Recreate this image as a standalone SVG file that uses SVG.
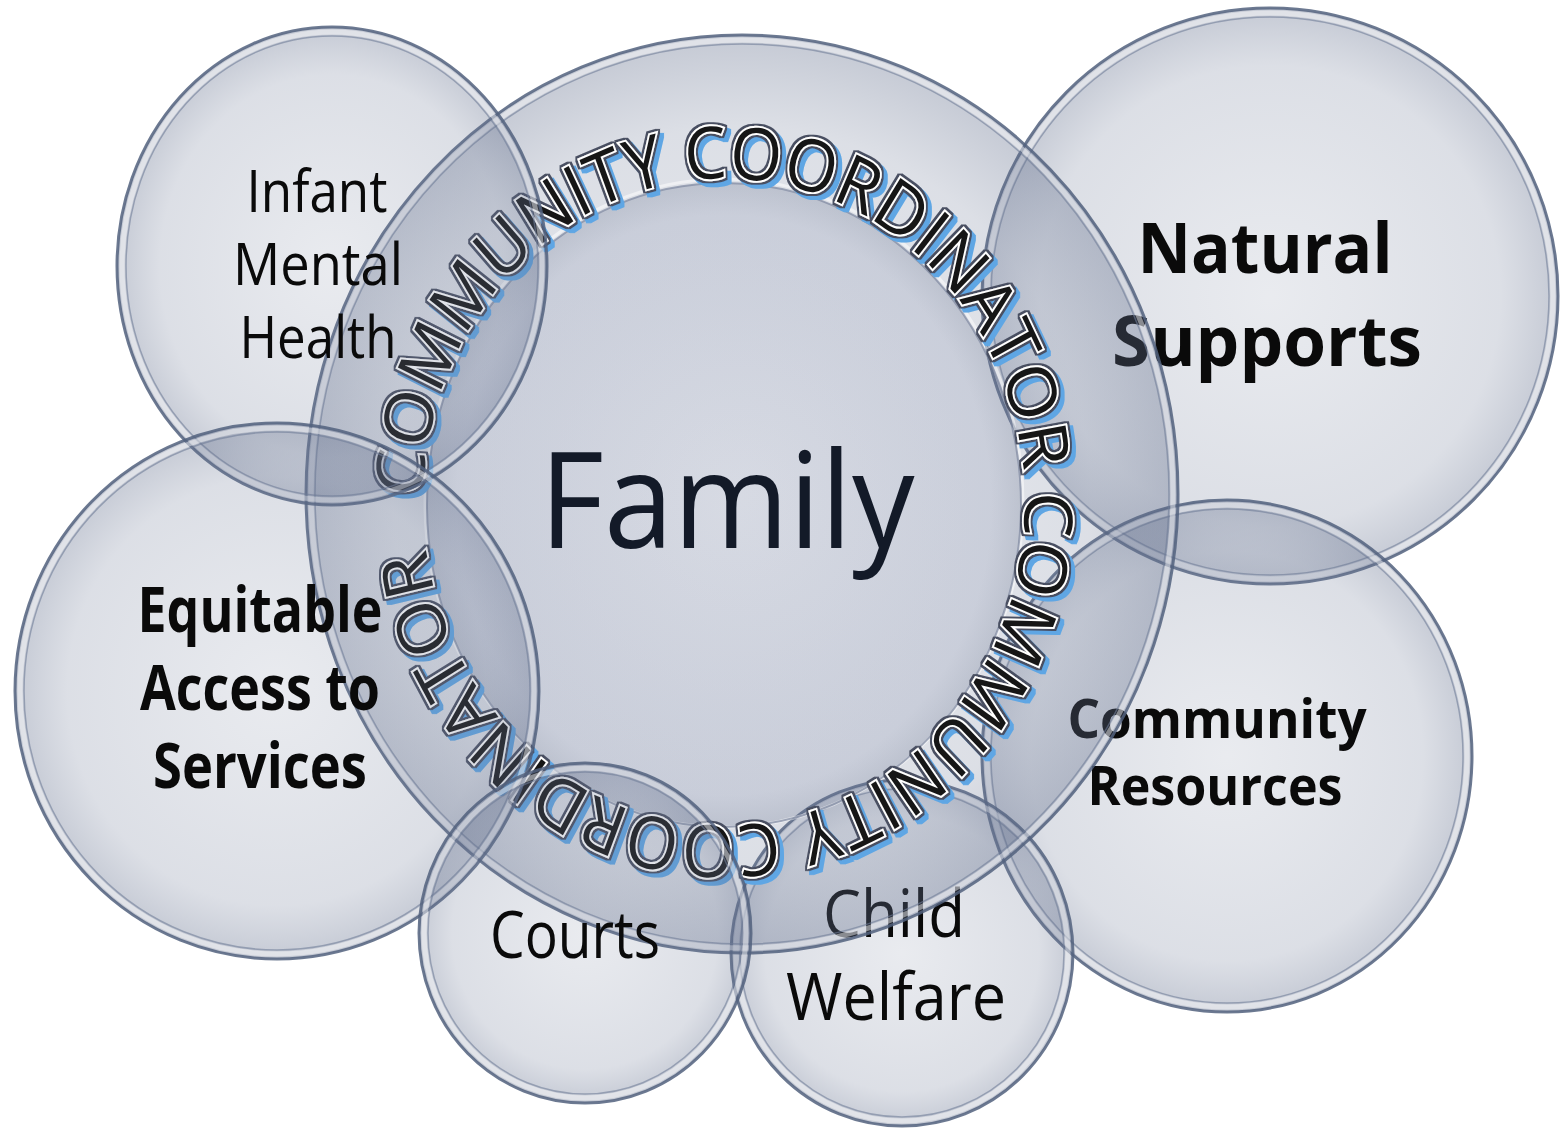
<svg xmlns="http://www.w3.org/2000/svg" xmlns:xlink="http://www.w3.org/1999/xlink" width="1565" height="1131" viewBox="0 0 1565 1131">
<defs>
  <radialGradient id="glass" cx="0.5" cy="0.5" r="0.5">
    <stop offset="0" stop-color="#6e7a96" stop-opacity="0.15"/>
    <stop offset="0.8" stop-color="#6e7a96" stop-opacity="0.24"/>
    <stop offset="1" stop-color="#5d6a88" stop-opacity="0.36"/>
  </radialGradient>
  <radialGradient id="glassInner" cx="0.5" cy="0.5" r="0.5">
    <stop offset="0" stop-color="#66739a" stop-opacity="0.14"/>
    <stop offset="0.9" stop-color="#66739a" stop-opacity="0.18"/>
    <stop offset="1" stop-color="#5d6a88" stop-opacity="0.26"/>
  </radialGradient>
  <filter id="ringFx" x="-10%" y="-10%" width="120%" height="120%">
    <feMorphology in="SourceAlpha" operator="dilate" radius="1.6" result="dil"/>
    <feFlood flood-color="#4a5062" result="gray"/>
    <feComposite in="gray" in2="dil" operator="in" result="outline"/>
    <feOffset in="dil" dx="3.5" dy="3.5" result="off"/>
    <feFlood flood-color="#5ea6e4" result="blue"/>
    <feComposite in="blue" in2="off" operator="in" result="shadow"/>
    <feMerge>
      <feMergeNode in="shadow"/>
      <feMergeNode in="outline"/>
      <feMergeNode in="SourceGraphic"/>
    </feMerge>
  </filter>
  <path id="ringPath" d="M -300.96,-4.73 A 301,301 0 0 1 300.96,4.73 A 301,301 0 0 1 -300.96,-4.73"/>
</defs>
<style>
  .disc { fill: url(#glass); }
  .hl { fill: none; stroke: #ffffff; stroke-width: 5; stroke-opacity: 0.45; }
  .rim2 { fill: none; stroke: #6f7d98; stroke-width: 1.5; stroke-opacity: 0.6; }
  .rim { fill: none; stroke: #52617e; stroke-width: 3; stroke-opacity: 0.85; }
  .lbl { font-family: "Open Sans", "Liberation Sans", sans-serif; fill: #0a0a0a; text-anchor: middle; }
  .b { font-weight: 700; }
  .ring { font-family: "Open Sans", "Liberation Sans", sans-serif; font-size: 67px; fill: #161616; stroke: #ffffff; stroke-width: 3.6; paint-order: stroke; }
</style>
<rect x="0" y="0" width="1565" height="1131" fill="#ffffff"/>
<g id="connectors"/>

<g id="natural-supports">
  <ellipse class="disc" cx="1270" cy="296" rx="288" ry="288"/>
  <ellipse class="hl" cx="1270" cy="296" rx="283" ry="283"/>
  <ellipse class="rim2" cx="1270" cy="296" rx="279" ry="279"/>
  <ellipse class="rim" cx="1270" cy="296" rx="288" ry="288"/>
  <text class="lbl b" x="1265" y="273" font-size="70" textLength="255" lengthAdjust="spacingAndGlyphs">Natural</text>
  <text class="lbl b" x="1267" y="366" font-size="70" textLength="310" lengthAdjust="spacingAndGlyphs">Supports</text>
</g>

<g id="community-resources">
  <ellipse class="disc" cx="1227" cy="756" rx="245" ry="256"/>
  <ellipse class="hl" cx="1227" cy="756" rx="240" ry="251"/>
  <ellipse class="rim2" cx="1227" cy="756" rx="236" ry="247"/>
  <ellipse class="rim" cx="1227" cy="756" rx="245" ry="256"/>
  <text class="lbl b" x="1217" y="738" font-size="53" textLength="299" lengthAdjust="spacingAndGlyphs">Community</text>
  <text class="lbl b" x="1215" y="805" font-size="53" textLength="255" lengthAdjust="spacingAndGlyphs">Resources</text>
</g>

<g id="child-welfare">
  <ellipse class="disc" cx="902" cy="953" rx="171" ry="173"/>
  <ellipse class="hl" cx="902" cy="953" rx="166" ry="168"/>
  <ellipse class="rim2" cx="902" cy="953" rx="162" ry="164"/>
  <ellipse class="rim" cx="902" cy="953" rx="171" ry="173"/>
  <text class="lbl" x="894" y="937" font-size="66" textLength="142" lengthAdjust="spacingAndGlyphs">Child</text>
  <text class="lbl" x="896" y="1020" font-size="66" textLength="220" lengthAdjust="spacingAndGlyphs">Welfare</text>
</g>

<g id="community-coordinator">
  <ellipse class="disc" cx="742" cy="494" rx="436" ry="459"/>
  <ellipse class="hl" cx="742" cy="494" rx="431" ry="454"/>
  <ellipse class="rim2" cx="742" cy="494" rx="427" ry="450"/>
  <ellipse class="rim" cx="742" cy="494" rx="436" ry="459"/>
</g>

<g id="family">
  <ellipse cx="724" cy="505" rx="297" ry="322" fill="url(#glassInner)"/>
  <ellipse cx="724" cy="503" rx="299" ry="324" fill="none" stroke="#ffffff" stroke-width="3" stroke-opacity="0.5"/>
  <ellipse cx="724" cy="505" rx="297" ry="322" fill="none" stroke="#7d889f" stroke-width="2" stroke-opacity="0.7"/>
  <text class="lbl" x="727" y="548" font-size="134" style="fill:#131a28" textLength="375" lengthAdjust="spacingAndGlyphs">Family</text>
</g>

<g id="ring-text" transform="translate(724,502) scale(1,1.08)">
  <text class="ring" filter="url(#ringFx)"><textPath xlink:href="#ringPath" href="#ringPath" textLength="1837" lengthAdjust="spacing">COMMUNITY COORDINATOR COMMUNITY COORDINATOR</textPath></text>
</g>

<g id="infant-mental-health">
  <ellipse class="disc" cx="332" cy="266" rx="215" ry="239"/>
  <ellipse class="hl" cx="332" cy="266" rx="210" ry="234"/>
  <ellipse class="rim2" cx="332" cy="266" rx="206" ry="230"/>
  <ellipse class="rim" cx="332" cy="266" rx="215" ry="239"/>
  <text class="lbl" x="317" y="212" font-size="59" textLength="141" lengthAdjust="spacingAndGlyphs">Infant</text>
  <text class="lbl" x="318" y="285" font-size="59" textLength="170" lengthAdjust="spacingAndGlyphs">Mental</text>
  <text class="lbl" x="318" y="358" font-size="59" textLength="157" lengthAdjust="spacingAndGlyphs">Health</text>
</g>

<g id="equitable-access">
  <ellipse class="disc" cx="277" cy="691" rx="262" ry="268"/>
  <ellipse class="hl" cx="277" cy="691" rx="257" ry="263"/>
  <ellipse class="rim2" cx="277" cy="691" rx="253" ry="259"/>
  <ellipse class="rim" cx="277" cy="691" rx="262" ry="268"/>
  <text class="lbl b" x="260" y="632" font-size="63" textLength="245" lengthAdjust="spacingAndGlyphs">Equitable</text>
  <text class="lbl b" x="260" y="710" font-size="63" textLength="240" lengthAdjust="spacingAndGlyphs">Access to</text>
  <text class="lbl b" x="260" y="788" font-size="63" textLength="214" lengthAdjust="spacingAndGlyphs">Services</text>
</g>

<g id="courts">
  <ellipse class="disc" cx="585" cy="933" rx="166" ry="170"/>
  <ellipse class="hl" cx="585" cy="933" rx="161" ry="165"/>
  <ellipse class="rim2" cx="585" cy="933" rx="157" ry="161"/>
  <ellipse class="rim" cx="585" cy="933" rx="166" ry="170"/>
  <text class="lbl" x="575" y="958" font-size="66" textLength="170" lengthAdjust="spacingAndGlyphs">Courts</text>
</g>
</svg>
